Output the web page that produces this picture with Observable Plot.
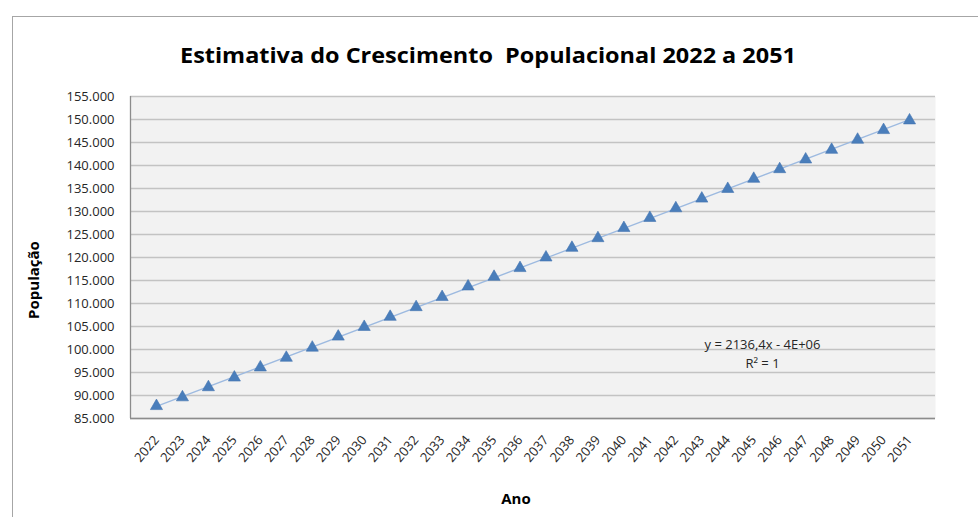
<!DOCTYPE html>
<html>
<head>
<meta charset="utf-8">
<script src="https://cdn.jsdelivr.net/npm/d3@7"></script>
<script src="https://cdn.jsdelivr.net/npm/@observablehq/plot@0.6"></script>
<style>
  html, body { margin: 0; padding: 0; background: #ffffff; }
  #wrap { position: relative; width: 978px; height: 517px; overflow: hidden; background: #fff; }
  #border { position: absolute; left: 12px; top: 16px; width: 1100px; height: 700px; border: 1px solid #a6a6a6; box-sizing: border-box; }
  #titleSvg { position: absolute; left: 0; top: 0; }
  #chart { position: absolute; left: 0; top: 0; }
  .lbl { position: absolute; font-family: "Open Sans", sans-serif; font-weight: bold; font-size: 15px; color: #000; white-space: nowrap; }
</style>
</head>
<body>
<div id="wrap">
  <div id="border"></div>
  <div id="chart"></div>
  <svg id="titleSvg" width="978" height="90"></svg>
  <div class="lbl" id="ylab"></div>
  <div class="lbl" id="xlab"></div>
</div>
<script>
// ---- Data ----
const titulo = "Estimativa do Crescimento  Populacional 2022 a 2051";
const rotuloY = "População";
const rotuloX = "Ano";
const anos = [2022, 2023, 2024, 2025, 2026, 2027, 2028, 2029, 2030, 2031,
              2032, 2033, 2034, 2035, 2036, 2037, 2038, 2039, 2040, 2041,
              2042, 2043, 2044, 2045, 2046, 2047, 2048, 2049, 2050, 2051];
const populacao = [87700, 89600, 91800, 93900, 96100, 98200, 100400, 102800, 104900, 107100,
                   109200, 111400, 113700, 115800, 117700, 120000, 122100, 124200, 126400, 128600,
                   130700, 132800, 134900, 137100, 139200, 141300, 143400, 145600, 147700, 149800];
const ticksY = [85000, 90000, 95000, 100000, 105000, 110000, 115000, 120000,
                125000, 130000, 135000, 140000, 145000, 150000, 155000];
const equacao = ["y = 2136,4x - 4E+06", "R² = 1"];

const dados = anos.map((a, i) => ({ano: a, pop: populacao[i]}));
const ptBR = d3.formatLocale({decimal: ",", thousands: ".", grouping: [3], currency: ["R$", ""]});
const fmt = ptBR.format(",.0f");

// ---- Title (svg text fitted to width) ----
const ts = d3.select("#titleSvg");
ts.append("text")
  .attr("x", 180).attr("y", 63)
  .attr("textLength", 616).attr("lengthAdjust", "spacingAndGlyphs")
  .attr("font-family", "Open Sans, sans-serif").attr("font-weight", "bold").attr("font-size", 22)
  .attr("fill", "#000").style("white-space", "pre")
  .text(titulo);

// ---- Chart ----
const chart = Plot.plot({
  width: 978,
  height: 517,
  marginLeft: 130,
  marginRight: 43,
  marginTop: 96,
  marginBottom: 99,
  style: {fontFamily: "Open Sans, sans-serif", fontSize: "13px", background: "transparent", color: "#262626"},
  x: {domain: [2021, 2052], ticks: anos, tickFormat: d => String(d), tickRotate: -50, tickSize: 0, tickPadding: 19, label: null},
  y: {domain: [85000, 155000], ticks: ticksY, tickFormat: fmt, tickSize: 0, tickPadding: 16, label: null},
  marks: [
    Plot.frame({fill: "#f2f2f2", stroke: null}),
    Plot.gridY(ticksY, {stroke: "#c3c3c3", strokeOpacity: 1, strokeWidth: 1.3}),
    Plot.ruleX([2021], {stroke: "#8c8c8c", strokeWidth: 1.3}),
    Plot.ruleY([85000], {stroke: "#8c8c8c", strokeWidth: 1.3}),
    Plot.linearRegressionY(dados, {x: "ano", y: "pop", stroke: "#9dbae0", strokeWidth: 1.3, ci: 0}),
    Plot.dot(dados, {x: "ano", y: "pop", symbol: "triangle", r: 4.5, fill: "#4a7ebb", stroke: "#4373b0", strokeWidth: 0.6}),
    Plot.text([equacao.join("\n")], {
      frameAnchor: "bottom-right", dx: -173, dy: -66,
      textAnchor: "middle", lineAnchor: "middle", lineHeight: 1.45,
      fill: "#262626", fontSize: 13
    })
  ]
});
document.getElementById("chart").appendChild(chart);

// ---- Axis titles ----
const yl = document.getElementById("ylab");
yl.textContent = rotuloY;
yl.style.left = "33px"; yl.style.top = "280px";
yl.style.transform = "translate(-50%, -50%) rotate(-90deg)";
const xl = document.getElementById("xlab");
xl.textContent = rotuloX;
xl.style.left = "516px"; xl.style.top = "498px";
xl.style.transform = "translate(-50%, -50%)";
</script>
</body>
</html>
